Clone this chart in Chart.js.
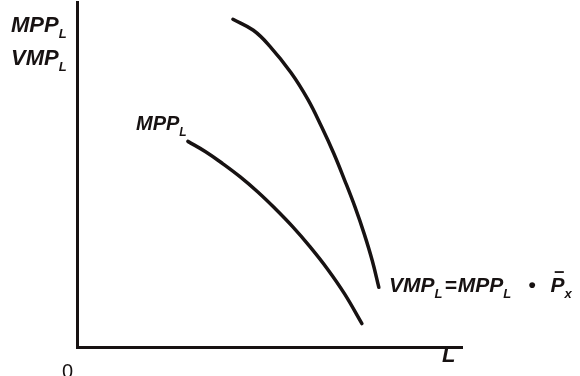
<!DOCTYPE html>
<html>
<head>
<meta charset="utf-8">
<script src="https://cdn.jsdelivr.net/npm/chart.js@4.4.1/dist/chart.umd.min.js"></script>
<style>
  html, body { margin: 0; padding: 0; background: #ffffff; }
  #wrap { width: 580px; height: 376px; position: relative; }
</style>
</head>
<body>
<div id="wrap"><canvas id="c" width="580" height="376"></canvas></div>
<script>
// Labour input (L) and marginal values for the two schedules
const vmpL = [4.05, 4.58, 5.00, 5.56, 6.00, 6.35, 6.67, 6.95, 7.22, 7.46, 7.67, 7.84];
const vmpY = [9.50, 9.18, 8.73, 7.95, 7.17, 6.39, 5.61, 4.84, 4.06, 3.28, 2.50, 1.73];
const mppL = [2.88, 3.34, 3.79, 4.24, 4.69, 5.14, 5.60, 6.05, 6.50, 6.95, 7.40];
const mppY = [5.96, 5.66, 5.31, 4.93, 4.50, 4.02, 3.49, 2.91, 2.27, 1.54, 0.68];

const axisMax = { x: 10, y: 10 };
const INK = '#171212';

function zip(xs, ys) { return xs.map((x, i) => ({ x: x, y: ys[i] })); }

// draw a run of text pieces, some of them set as subscripts or with an overbar
function drawParts(ctx, x, y, parts, size) {
  let cx = x;
  parts.forEach(p => {
    const fs = p.sub ? Math.round(size * 0.6) : size;
    ctx.font = 'italic bold ' + fs + 'px "Liberation Sans", Arial, sans-serif';
    const dy = p.sub ? size * 0.28 : 0;
    ctx.fillText(p.t, cx, y + dy);
    const w = ctx.measureText(p.t).width;
    if (p.bar) {
      ctx.save();
      ctx.lineWidth = 1.8;
      ctx.strokeStyle = INK;
      ctx.beginPath();
      ctx.moveTo(cx + w * 0.3, y - size * 0.95);
      ctx.lineTo(cx + w * 0.95, y - size * 0.95);
      ctx.stroke();
      ctx.restore();
    }
    cx += w + (p.gap || 0);
  });
}

const labels = {
  id: 'curveLabels',
  afterDraw(chart) {
    const ctx = chart.ctx;
    ctx.save();
    ctx.fillStyle = INK;
    ctx.textBaseline = 'alphabetic';
    ctx.textAlign = 'left';
    drawParts(ctx, 11, 32, [{ t: 'MPP' }, { t: 'L', sub: true }], 22);
    drawParts(ctx, 11, 65, [{ t: 'VMP' }, { t: 'L', sub: true }], 22);
    drawParts(ctx, 136, 130, [{ t: 'MPP' }, { t: 'L', sub: true }], 20);
    drawParts(ctx, 389, 292, [
      { t: 'VMP', gap: 0 }, { t: 'L', sub: true, gap: 2 }, { t: '=', gap: 1 },
      { t: 'MPP' }, { t: 'L', sub: true, gap: 17 }, { t: '\u2022', gap: 15 },
      { t: 'P', bar: true }, { t: 'x', sub: true }
    ], 21);
    ctx.font = 'italic bold 22px "Liberation Sans", Arial, sans-serif';
    ctx.fillText('L', 442, 362);
    ctx.font = '20px "Liberation Sans", Arial, sans-serif';
    ctx.textBaseline = 'top';
    ctx.fillText('0', 62, 362);
    ctx.restore();
  }
};

const lineStyle = {
  borderColor: INK,
  borderWidth: 3.5,
  pointRadius: 0,
  fill: false,
  tension: 0.4,
  borderCapStyle: 'round',
  borderJoinStyle: 'round'
};

new Chart(document.getElementById('c'), {
  type: 'line',
  data: {
    datasets: [
      Object.assign({ label: 'VMP_L', data: zip(vmpL, vmpY) }, lineStyle),
      Object.assign({ label: 'MPP_L', data: zip(mppL, mppY) }, lineStyle)
    ]
  },
  options: {
    responsive: false,
    animation: false,
    events: [],
    layout: { padding: { left: 77, top: 2, right: 118, bottom: 29 } },
    plugins: { legend: { display: false }, tooltip: { enabled: false } },
    scales: {
      x: {
        type: 'linear', min: 0, max: axisMax.x,
        grid: { display: false, drawTicks: false },
        ticks: { display: false },
        border: { display: true, color: INK, width: 3 }
      },
      y: {
        type: 'linear', min: 0, max: axisMax.y,
        grid: { display: false, drawTicks: false },
        ticks: { display: false },
        border: { display: true, color: INK, width: 3 }
      }
    }
  },
  plugins: [labels]
});
</script>
</body>
</html>
